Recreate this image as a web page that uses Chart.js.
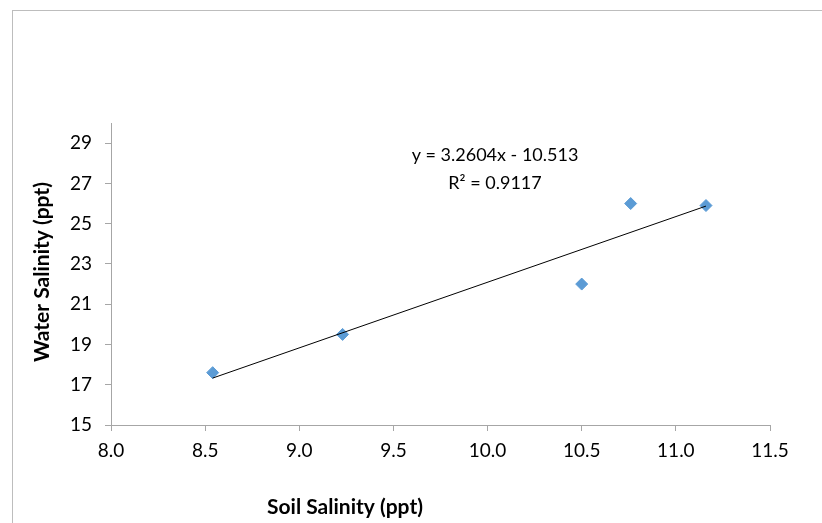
<!DOCTYPE html>
<html>
<head>
<meta charset="utf-8">
<script src="https://cdn.jsdelivr.net/npm/chart.js@4.4.0/dist/chart.umd.min.js"></script>
<style>
html,body{margin:0;padding:0;background:#fff;}
#wrap{position:relative;width:822px;height:523px;}
#frame{position:absolute;left:12px;top:10px;right:0;bottom:0;border-left:1px solid #bdbdbd;border-top:1px solid #bdbdbd;}
canvas{position:absolute;left:0;top:0;}
</style>
</head>
<body>
<div id="wrap"><div id="frame"></div><canvas id="c" width="822" height="523"></canvas></div>
<script>
// Data
const soilSalinity = [8.54, 9.23, 10.50, 10.76, 11.16];
const waterSalinity = [17.6, 19.5, 22.0, 26.0, 25.9];
// Trendline equation as printed on the chart
const slope = 3.2604;
const intercept = -10.513;
const equationText = ["y = 3.2604x - 10.513", "R\u00B2 = 0.9117"];
const xTicks = [8.0, 8.5, 9.0, 9.5, 10.0, 10.5, 11.0, 11.5];
const yTicks = [15, 17, 19, 21, 23, 25, 27, 29];
const xTitle = "Soil Salinity (ppt)";
const yTitle = "Water Salinity (ppt)";

const xMin = Math.min(...soilSalinity), xMax = Math.max(...soilSalinity);
const trend = [{x: xMin, y: slope * xMin + intercept}, {x: xMax, y: slope * xMax + intercept}];
const points = soilSalinity.map((x, i) => ({x, y: waterSalinity[i]}));

const FONT = "Lato, 'Open Sans', sans-serif";
const AXIS = '#a6a6a6';

const textPlugin = {
  id: 'texts',
  afterDraw(chart) {
    const ctx = chart.ctx;
    const ys = chart.scales.y;
    ctx.save();
    ctx.fillStyle = '#000';
    ctx.font = "bold 21px " + FONT;
    ctx.textAlign = 'center';
    ctx.textBaseline = 'middle';
    ctx.fillText(xTitle, 345, 507);
    ctx.translate(42, (ys.top + ys.bottom) / 2 - 2);
    ctx.rotate(-Math.PI / 2);
    ctx.fillText(yTitle, 0, 0);
    ctx.restore();
    ctx.save();
    ctx.fillStyle = '#000';
    ctx.font = "18px " + FONT;
    ctx.textAlign = 'center';
    ctx.textBaseline = 'middle';
    ctx.fillText(equationText[0], 495, 155);
    ctx.fillText(equationText[1], 495, 183);
    ctx.restore();
  }
};

new Chart(document.getElementById('c'), {
  type: 'scatter',
  data: {
    datasets: [
      {
        type: 'line',
        data: trend,
        borderColor: '#000',
        borderWidth: 1,
        pointRadius: 0,
        fill: false,
        order: 1
      },
      {
        data: points,
        pointStyle: 'rectRot',
        pointRadius: 6,
        pointHoverRadius: 6,
        backgroundColor: '#5b9bd5',
        borderColor: '#5b9bd5',
        borderWidth: 1,
        order: 2
      }
    ]
  },
  options: {
    responsive: false,
    animation: false,
    events: [],
    layout: {padding: {left: 0, right: 52, top: 123, bottom: 0}},
    plugins: {legend: {display: false}, tooltip: {enabled: false}, title: {display: false}},
    scales: {
      x: {
        type: 'linear',
        min: 8, max: 11.5,
        afterBuildTicks(s) { s.ticks = xTicks.map(v => ({value: v})); },
        afterFit(s) { s.height = 98; },
        grid: {drawOnChartArea: false, drawTicks: true, tickLength: 6, color: AXIS},
        border: {display: true, color: AXIS, width: 1},
        ticks: {
          padding: 8,
          color: '#000',
          font: {family: FONT, size: 19},
          maxRotation: 0,
          autoSkip: false,
          callback: v => Number(v).toFixed(1)
        }
      },
      y: {
        type: 'linear',
        min: 15, max: 30,
        afterBuildTicks(s) { s.ticks = yTicks.map(v => ({value: v})); },
        afterFit(s) { s.width = 111; },
        grid: {drawOnChartArea: false, drawTicks: true, tickLength: 6, color: AXIS},
        border: {display: true, color: AXIS, width: 1},
        ticks: {
          padding: 13,
          color: '#000',
          font: {family: FONT, size: 19},
          autoSkip: false,
          callback: v => String(v)
        }
      }
    }
  },
  plugins: [textPlugin]
});
</script>
</body>
</html>
